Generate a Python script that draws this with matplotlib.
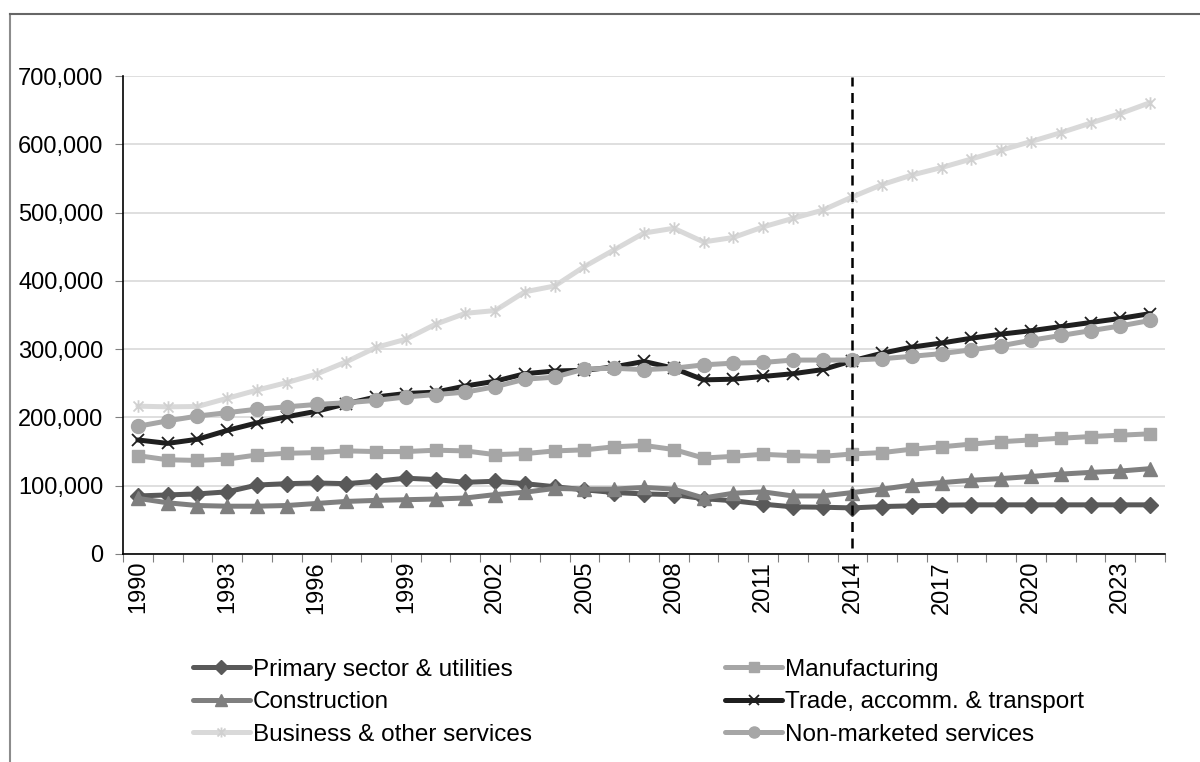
import matplotlib
matplotlib.use("Agg")
import matplotlib.pyplot as plt
from matplotlib.path import Path
from matplotlib.lines import Line2D
from matplotlib.ticker import FuncFormatter, FixedLocator, NullFormatter

plt.rcParams['font.family'] = ['Liberation Sans', 'DejaVu Sans']

years = list(range(1990, 2025))

primary = [85, 86.5, 88, 91, 101, 103, 104, 103, 106.5, 111, 109, 105, 106.5, 103, 98.5,
           94, 90, 88, 87, 81, 78, 73, 69, 68.5, 67.5, 69.5, 70.5, 71.5, 72, 72,
           72, 72, 72, 72, 72]
manufacturing = [144, 138, 137, 139, 145, 147.5, 148.5, 151, 150, 150, 152, 151, 145.5, 147, 151,
                 152.5, 157, 159, 153, 140.5, 143, 146, 144, 143, 146.5, 148.5, 153.5, 157, 161, 164.5,
                 167, 169.5, 172, 174, 176]
construction = [81.5, 75, 71, 70, 70, 71, 74, 77, 78.5, 79.5, 80.5, 82, 87, 90.5, 96,
                95, 95, 97.5, 95, 82, 89, 91, 85, 85, 90, 95, 101, 104.5, 108, 110.5,
                113.5, 117, 119.5, 121.5, 125]
trade = [167, 162, 168, 181, 192, 201, 209, 220, 230, 235, 237, 246, 253, 264, 268,
         269, 274, 282, 272, 255, 256, 260, 264, 270, 283, 294, 303, 309, 316, 322,
         327, 333, 339, 345, 352]
business = [216.5, 215.5, 216, 228, 240, 251, 263.5, 281.5, 302.5, 314.5, 336.5, 352.5, 356.5, 384, 392.5,
            421, 445.5, 470, 477, 457, 463.5, 479, 491.5, 503.5, 523, 541, 555, 566, 578.5, 591.5,
            604, 617, 631, 645, 661]
non_marketed = [187, 195, 202, 207, 212, 215.5, 219, 221.5, 225, 230, 233.5, 237, 245, 256, 259,
                271, 272, 270, 272, 277, 279.5, 280.5, 284, 284, 284, 286, 289.5, 293.5, 299, 305,
                313, 320, 327, 334, 342]

labels = ["Primary sector & utilities", "Manufacturing", "Construction",
          "Trade, accomm. & transport", "Business & other services", "Non-marketed services"]
unit = 1000
marker_year = 2014

# asterisk marker: an x with a vertical stroke
star_path = Path([(-1, -1), (1, 1), (-1, 1), (1, -1), (0, -1.25), (0, 1.25)],
                 [Path.MOVETO, Path.LINETO, Path.MOVETO, Path.LINETO, Path.MOVETO, Path.LINETO])

styles = [
    dict(color="#595959", marker="D", ms=8.5, mec="#595959"),
    dict(color="#A6A6A6", marker="s", ms=9, mec="#A6A6A6"),
    dict(color="#7F7F7F", marker="^", ms=10, mec="#7F7F7F"),
    dict(color="#1F1F1F", marker="x", ms=9, mec="#1F1F1F", mew=1.3),
    dict(color="#D9D9D9", marker=star_path, ms=9, mec="#D0D0D0", mew=1.3),
    dict(color="#A6A6A6", marker="o", ms=10, mec="#A6A6A6"),
]

fig = plt.figure(figsize=(12, 7.62), dpi=100)
ax = fig.add_axes([123 / 1200, 1 - 554 / 762, (1165 - 123) / 1200, (554 - 76) / 762])

x = list(range(len(years)))
series = [primary, manufacturing, construction, trade, business, non_marketed]
handles = []
for vals, lab, st in zip(series, labels, styles):
    ln, = ax.plot(x, [v * unit for v in vals], lw=3.6, label=lab, solid_joinstyle="round",
                  solid_capstyle="round", **st)
    handles.append(ln)

idx = years.index(marker_year)
ax.axvline(idx, ymin=0.012, ymax=0.997, color="black", lw=1.8, ls=(0, (4, 2.6)))

ax.set_xlim(-0.5, len(years) - 0.5)
ax.set_ylim(0, 700000)
ax.set_yticks(range(0, 700001, 100000))
ax.yaxis.set_major_formatter(FuncFormatter(lambda v, p: f"{int(v):,}"))
ax.grid(axis="y", color="#D9D9D9", lw=1.2)
ax.set_axisbelow(True)

ax.xaxis.set_major_locator(FixedLocator([i - 0.5 for i in range(len(years) + 1)]))
ax.xaxis.set_major_formatter(NullFormatter())
ax.xaxis.set_minor_locator(FixedLocator([i for i in x if (years[i] - 1990) % 3 == 0]))
ax.xaxis.set_minor_formatter(FuncFormatter(lambda v, p: str(years[int(round(v))])))
ax.tick_params(axis="x", which="major", length=6, color="#808080", direction="out")
ax.tick_params(axis="x", which="minor", length=0, pad=5, labelrotation=90, labelsize=17)
ax.tick_params(axis="y", length=6, color="#808080", direction="out", labelsize=17, pad=8)

for s in ("top", "right"):
    ax.spines[s].set_visible(False)
for s in ("left", "bottom"):
    ax.spines[s].set_color("black")
    ax.spines[s].set_linewidth(1.2)

order = [0, 2, 4, 1, 3, 5]
leg = fig.legend([handles[i] for i in order], [labels[i] for i in order], ncol=2,
                 loc="upper left", bbox_to_anchor=(171 / 1200, 1 - 637 / 762),
                 frameon=False, fontsize=17.5, handlelength=2.35, handletextpad=0.12,
                 columnspacing=7.95, labelspacing=0.43, markerscale=0.8)

# chart frame
fig.add_artist(Line2D([10 / 1200, 10 / 1200], [0, 1 - 14 / 762], transform=fig.transFigure,
                      color="#8C8C8C", lw=1.5))
fig.add_artist(Line2D([10 / 1200, 1], [1 - 14 / 762, 1 - 14 / 762], transform=fig.transFigure,
                      color="#666666", lw=1.5))

fig.savefig("out.png", dpi=100)
